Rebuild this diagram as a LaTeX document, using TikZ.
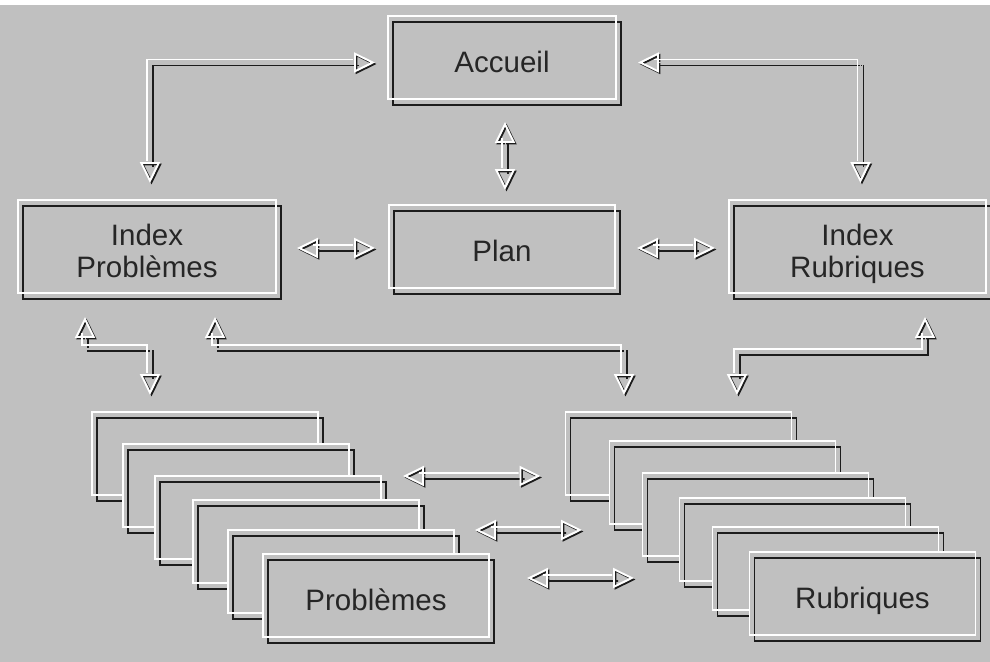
\documentclass[tikz,border=0pt]{standalone}
\usepackage{fontspec}
\setmainfont{Liberation Sans}
\usetikzlibrary{arrows.meta,calc}
\definecolor{bggray}{HTML}{C0C0C0}
\definecolor{edgedark}{HTML}{1C1C1C}
\definecolor{ink}{HTML}{262626}
\tikzset{page/.style = {draw=white, line width=1.1pt, minimum width=4.52cm, minimum height=1.66cm, inner sep=0pt, outer sep=0pt,
                        text=ink, align=center, font=\fontsize{16.8}{18.2}\selectfont, text height=0.59cm, text depth=0pt,
                        preaction={fill=bggray},
                        preaction={draw=edgedark, line width=1.1pt, transform canvas={shift={(0.1cm,-0.12cm)}}}},
         twoline/.style = {text height=1.23cm, text depth=0pt},
         whitehead/.tip = {Triangle[open, length=0.42cm, width=0.4cm, line width=1.1pt, color=white]},
         darkhead/.tip = {Triangle[open, length=0.42cm, width=0.4cm, line width=1.1pt, color=edgedark]},
         link/.style = {draw=white, line width=1.1pt, shorten <=0.38cm, shorten >=0.38cm,
                        preaction={draw=edgedark, line width=1.1pt, shorten <=0.38cm, shorten >=0.38cm,
                                   transform canvas={shift={(0.12cm,-0.12cm)}}},
                        preaction={draw=bggray, line width=0.3pt, shorten <=0pt, shorten >=0pt, arrows={darkhead-darkhead},
                                   transform canvas={shift={(0.09cm,-0.09cm)}}},
                        preaction={draw=bggray, line width=0.3pt, shorten <=0pt, shorten >=0pt, arrows={whitehead-whitehead},
                                   transform canvas={shift={(0.06cm,-0.06cm)}}}}}

\begin{document}
\begin{tikzpicture}[x=0.02cm, y=-0.02cm]
    \fill[bggray](0,5)rectangle(990,662);
    \fill[white](0,0)rectangle(990,5);
    \useasboundingbox(0,0)rectangle(990,662);

    % top row
    \node[page, minimum width=4.56cm](acc)at(502,57.5){Accueil};
    \node[page](plan)at(502,246.5){Plan};
    \node[page, twoline, minimum width=5.16cm, minimum height=1.86cm](ip)at(147,246.5){Index\\Problèmes};
    \node[page, twoline, minimum width=5.14cm, minimum height=1.86cm](ir)at(857.5,246.5){Index\\Rubriques};

    % stacks of pages
    \foreach \i/\x/\y in {1/205/453.5, 2/236/485.5, 3/268/517.5, 4/306/541.5, 5/341/571.5}
        \node[page](p\i)at(\x,\y){};
    \node[page](p6)at(376,595.5){Problèmes};
    \foreach \i/\x/\y in {1/678.5/453.5, 2/722.5/482.5, 3/755.5/514.5, 4/792.5/539.5, 5/825.5/568.5}
        \node[page](r\i)at(\x,\y){};
    \node[page](r6)at(862.5,593.5){Rubriques};

    % links
    \draw[link]($(ip.north)+(0,-20)$) |- ($(acc.west)+(-16,2)$);
    \draw[link]($(acc.east)+(19,2)$) -| ($(ir.north)+(0,-20)$);
    \draw[link]($(acc.south)+(0,20)$) -- ($(plan.north)+(0,-18)$);
    \draw[link]($(ip.east)+(18,-1.5)$) -- ($(plan.west)+(-17,-1.5)$);
    \draw[link]($(plan.east)+(19,-1.5)$) -- ($(ir.west)+(-17,-1.5)$);
    \draw[link]($(ip.south)+(-65,21)$) -- ++(0,31) -| ($(p1.north)+(-58,-20)$);
    \draw[link]($(ip.south)+(65,21)$) -- ++(0,31) -| ($(r1.north)+(-57.5,-20)$);
    \draw[link]($(r1.north)+(55.5,-20)$) -- ++(0,-43) -| ($(ir.south)+(64.5,21)$);
    \draw[link]($(p3.north east)+(19,-3)$) -- ($(r1.south west)+(-28,-22)$);
    \draw[link]($(p5.north east)+(18,-3)$) -- ($(r2.south west)+(-30.5,3)$);
    \draw[link]($(p6.north east)+(35,21)$) -- ($(r3.south west)+(-11.5,19)$);
\end{tikzpicture}
\end{document}
